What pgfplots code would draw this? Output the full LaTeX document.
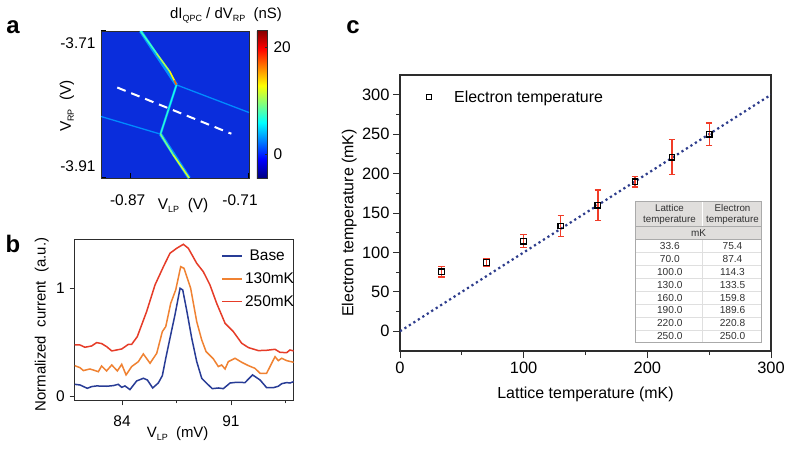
\documentclass[border=0pt]{standalone}
\usepackage{fontspec}
\setmainfont{Liberation Sans}
\usepackage{pgfplots}
\usepackage{pgfplotstable}
\pgfplotsset{compat=1.18}

\definecolor{axisgray}{RGB}{45,45,45}
\definecolor{heatbg}{RGB}{10,45,220}
\definecolor{cbase}{RGB}{40,60,150}
\definecolor{corange}{RGB}{240,130,50}
\definecolor{cred}{RGB}{230,60,40}
\definecolor{cdots}{RGB}{45,60,140}
\definecolor{cerr}{RGB}{240,60,40}
\definecolor{tabgray}{RGB}{224,222,220}
\definecolor{tabline}{RGB}{170,170,170}
\definecolor{tabtext}{RGB}{50,50,50}

\newcommand{\fs}[1]{\fontsize{#1}{#1}\selectfont}
\newcommand{\sub}[1]{\raisebox{-3bp}{\fs{9}#1}}

% panel b: normalized current
\pgfplotstableread{
x y
80.96 .111
81.30 .105
81.77 .074
82.05 .09
82.37 .096
83.01 .093
83.44 .099
83.76 .111
83.98 .083
84.19 .096
84.51 .062
84.94 .142
85.37 .167
85.63 .151
85.97 .077
86.33 .123
86.59 .191
86.81 .352
87.08 .537
87.40 .753
87.73 1.0
87.90 .985
88.15 .80
88.48 .537
88.80 .321
89.12 .167
89.44 .12
89.80 .071
90.19 .077
90.51 .071
90.94 .123
91.37 .13
91.90 .127
92.39 .198
92.87 .151
93.29 .08
93.72 .08
94.04 .093
94.26 .117
94.58 .127
94.79 .123
95.03 .136
}\tbase
\pgfplotstableread{
x y
80.96 .284
81.30 .265
81.52 .238
81.94 .253
82.48 .228
82.69 .281
83.01 .235
83.34 .29
83.70 .235
83.98 .296
84.26 .198
84.62 .275
85.05 .321
85.37 .392
85.80 .306
86.23 .398
86.59 .599
86.81 .645
87.13 .861
87.45 .985
87.77 1.2
87.98 1.185
88.41 1.0
88.80 .691
89.12 .522
89.40 .414
89.87 .346
90.19 .275
90.40 .29
90.62 .253
90.83 .321
91.26 .352
91.69 .315
92.12 .284
92.54 .259
92.87 .213
93.29 .213
93.83 .367
94.04 .33
94.26 .352
94.58 .33
95.03 .315
}\torange
\pgfplotstableread{
x y
80.96 .475
81.30 .475
81.62 .454
82.05 .466
82.37 .497
82.69 .488
83.01 .46
83.34 .42
83.98 .438
84.41 .481
84.62 .481
84.98 .552
85.58 .784
86.12 1.031
86.66 1.2
87.08 1.324
87.51 1.37
87.94 1.407
88.26 1.37
88.80 1.231
89.22 1.154
89.65 1.031
90.08 .861
90.62 .676
91.15 .599
91.69 .491
92.12 .451
92.76 .423
93.29 .426
93.83 .435
94.15 .407
94.58 .404
94.79 .429
95.03 .42
}\tred

% panel c: lattice temperature, electron temperature, error
\pgfplotstableread{
x y e
33.6 75.4 6.5
70.0 87.4 5
100.0 114.3 8
130.0 133.5 13
160.0 159.8 19.5
190.0 189.6 6.5
220.0 220.8 22
250.0 250.0 14
}\ttemp

\begin{document}
\begin{tikzpicture}
\path[use as bounding box, fill=white] (0,0) rectangle (790bp,-449bp);

% panel a
\begin{axis}[
    at={(101bp,-178bp)}, anchor=south west, scale only axis,
    width=148bp, height=147bp,
    xmin=-0.91, xmax=-0.71, ymin=-3.91, ymax=-3.71,
    axis background/.style={fill=heatbg},
    axis line style={axisgray, line width=0.6bp},
    tick align=inside, tick pos=left,
    major tick length=5bp,
    tick style={black, line width=1.2bp},
    xtick={-0.87,-0.71}, xticklabels={-0.87,-0.71},
    ytick={-3.91,-3.71}, yticklabels={-3.91,-3.71},
    xticklabel style={font=\fs{15.5}, yshift=-13bp, xshift={-3bp-6bp*\ticknum}},
    yticklabel style={font=\fs{15.5}, xshift=-2bp, yshift={12bp*(2*\ticknum-1)*(-1)}},
    xlabel={V\sub{LP}\ \ (V)}, ylabel={V\sub{RP}\ \ (V)},
    label style={font=\fs{15.5}},
    xlabel style={at={(axis description cs:0.555,-0.185)}, anchor=center},
    ylabel style={at={(axis description cs:-0.23,0.49)}, anchor=center, rotate=0},
    colormap/jet, point meta min=-4.5, point meta max=23.2,
    colorbar,
    colorbar style={
        at={(1.054,0)}, anchor=south west, scale only axis,
        width=10bp, height=148bp,
        ytick={0,20}, yticklabels={0,20},
        ytick pos=right, tick align=inside,
        major tick length=2bp,
        tick style={axisgray, line width=0.4bp},
        axis line style={axisgray, line width=0.4bp},
        yticklabel style={font=\fs{15.5}, xshift=3bp},
    },
]
% faint side lines
\addplot[mesh, line width=1.3bp, point meta=explicit] table[meta=c] {
x y c
-0.8080 -3.7833 3
-0.71 -3.8209 2.5
};
\addplot[mesh, line width=1.3bp, point meta=explicit] table[meta=c] {
x y c
-0.91 -3.8263 2.5
-0.8296 -3.8503 3
};
% glow under the bright lines
\addplot[mesh, line width=3.4bp, point meta=explicit] table[meta=c] {
x y c
-0.8565 -3.71 3
-0.8080 -3.7833 3
};
\addplot[mesh, line width=3.4bp, point meta=explicit] table[meta=c] {
x y c
-0.8296 -3.8503 3
-0.7909 -3.91 3
};
\addplot[mesh, line width=2.4bp, point meta=explicit] table[meta=c] {
x y c
-0.8080 -3.7833 3
-0.8296 -3.8503 3
};
% bright lines
\addplot[mesh, line width=1.6bp, point meta=explicit] table[meta=c] {
x y c
-0.8565 -3.71 6
-0.8350 -3.7403 9
-0.8170 -3.7652 12
-0.8110 -3.7773 14
-0.8080 -3.7833 20
};
\addplot[mesh, line width=1.3bp, point meta=explicit] table[meta=c] {
x y c
-0.8080 -3.7833 6
-0.8188 -3.8168 7
-0.8296 -3.8503 7
};
\addplot[mesh, line width=1.6bp, point meta=explicit] table[meta=c] {
x y c
-0.8296 -3.8503 7
-0.8125 -3.8783 11
-0.7909 -3.91 12
};
\addplot[white, line width=2bp, dash pattern=on 9bp off 6bp] coordinates {
(-0.888,-3.7869) (-0.7338,-3.8498)
};
\end{axis}

% panel b
\begin{axis}[
    at={(74.7bp,-400.3bp)}, anchor=south west, scale only axis,
    width=219bp, height=161.3bp,
    xmin=80.96, xmax=95.03, ymin=-0.037, ymax=1.456,
    axis line style={axisgray, line width=0.8bp},
    tick align=outside, tick pos=left,
    major tick length=5bp, minor tick length=3bp,
    tick style={axisgray, line width=0.8bp},
    xtick={84,91}, minor xtick={87.5,94.5},
    ytick={0,1},
    /pgf/number format/assume math mode=true,
    ticklabel style={font=\fs{15.5}},
    xticklabel style={yshift=-7bp},
    yticklabel style={xshift=-1.5bp},
    xlabel={V\sub{LP}\ \ (mV)}, ylabel={Normalized\ \ current\ \ (a.u.)},
    label style={font=\fs{15}},
    xlabel style={at={(axis description cs:0.47,-0.205)}, anchor=center},
    ylabel style={at={(axis description cs:-0.15,0.47)}, anchor=center},
    legend style={at={(0.67,0.945)}, anchor=north west, draw=none, fill=none,
        font=\fs{15.5}, row sep=6.5bp, inner sep=0pt},
    legend cell align={left},
    legend image code/.code={\draw[#1] plot coordinates {(0bp,0bp) (20bp,0bp)};},
]
\addplot[color=cbase, line width=1.5bp] table {\tbase};
\addlegendentry{\hspace{4.5bp}Base}
\addplot[color=corange, line width=1.5bp] table {\torange};
\addlegendentry{130mK}
\addplot[color=cred, line width=1.5bp] table {\tred};
\addlegendentry{250mK}
\end{axis}

% panel c
\begin{axis}[
    at={(400bp,-351bp)}, anchor=south west, scale only axis,
    width=371bp, height=276bp,
    xmin=0, xmax=300, ymin=-25, ymax=325,
    axis line style={axisgray, line width=1.1bp},
    tick align=outside, tick pos=left,
    major tick length=7bp, minor tick length=4bp,
    tick style={axisgray, line width=0.9bp},
    xtick={0,100,200,300}, minor x tick num=1,
    ytick={0,50,100,150,200,250,300}, minor y tick num=1,
    /pgf/number format/assume math mode=true,
    ticklabel style={font=\fs{16.5}},
    xlabel={Lattice temperature (mK)}, ylabel={Electron temperature (mK)},
    label style={font=\fs{16}},
    xlabel style={at={(axis description cs:0.5,-0.156)}, anchor=center},
    ylabel style={at={(axis description cs:-0.137,0.464)}, anchor=center},
    legend style={at={(axis cs:21,297)}, anchor=west, draw=none, fill=none,
        font=\fs{16}, inner sep=0pt},
    legend image code/.code={\draw plot[#1, mark=square, mark size=2.8bp] coordinates {(0bp,0bp)} node[right=14bp] {};},
]
\addplot[cdots, line width=2.2bp, dash pattern=on 2.2bp off 3.1bp, forget plot] coordinates {
(0,0) (300,300)
};
% error bars first, the squares over them
\addplot[draw=none, mark=none, forget plot,
    error bars/.cd, y dir=both, y explicit,
    error bar style={draw=cerr, line width=1.3bp},
    error mark options={draw=cerr, mark size=3.2bp, line width=1.3bp, rotate=90},
] table[x=x, y=y, y error=e] {\ttemp};
\addplot[only marks, mark=square, mark size=2.8bp, draw=black,
    mark options={line width=1.2bp, draw=black},
] table[x=x, y=y] {\ttemp};
\addlegendentry{\hspace{5bp}Electron temperature}
\end{axis}

% table inside panel c, panel letters and the colour bar title
\begin{scope}[x=1bp, y=-1bp]
\fill[white] (635.7,201) rectangle (761.7,342.7);
\fill[tabgray] (635.7,201) rectangle (761.7,239.7);
\foreach \i in {1,...,7} \draw[gray!25, line width=0.5bp] (635.7,{239.7+12.87*\i}) -- (761.7,{239.7+12.87*\i});
\draw[gray!25, line width=0.5bp] (702.7,239.7) -- (702.7,342.7);
\draw[white, line width=0.7bp] (702.7,201) -- (702.7,226.7);
\draw[tabline, line width=0.6bp] (635.7,226.7) -- (761.7,226.7);
\draw[tabline, line width=0.6bp] (635.7,239.7) -- (761.7,239.7);
\draw[tabline, line width=0.8bp] (635.7,201) rectangle (761.7,342.7);
\node[align=center, text=tabtext, font=\fontsize{9.8}{11}\selectfont, inner sep=0pt] at (669.5,214) {Lattice\\temperature};
\node[align=center, text=tabtext, font=\fontsize{9.8}{11}\selectfont, inner sep=0pt] at (732.5,214) {Electron\\temperature};
\node[text=tabtext, font=\fs{10}, inner sep=0pt] at (698.5,233.2) {mK};
\foreach \a/\b [count=\i from 0] in {33.6/75.4,70.0/87.4,100.0/114.3,130.0/133.5,160.0/159.8,190.0/189.6,220.0/220.8,250.0/250.0} {
    \node[text=tabtext, font=\fs{10.2}, inner sep=0pt] at (669.8,{246.1+12.87*\i}) {\a};
    \node[text=tabtext, font=\fs{10.2}, inner sep=0pt] at (732.5,{246.1+12.87*\i}) {\b};
}
\node[font=\fs{15}, inner sep=0pt] at (226,15) {dI\sub{QPC} / dV\sub{RP}\ \ (nS)};
\node[font=\bfseries\fs{24}, anchor=base, inner sep=0pt] at (13,33) {a};
\node[font=\bfseries\fs{24}, anchor=base, inner sep=0pt] at (13,252) {b};
\node[font=\bfseries\fs{24}, anchor=base, inner sep=0pt] at (353,33) {c};
\end{scope}
\end{tikzpicture}
\end{document}
